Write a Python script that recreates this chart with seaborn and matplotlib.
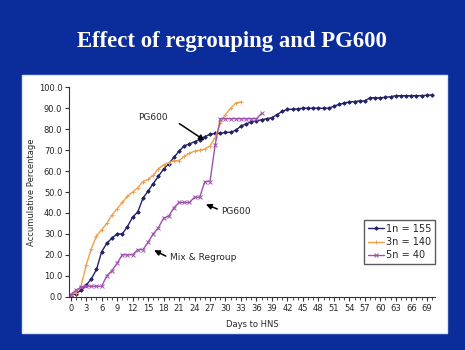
import numpy as np
import pandas as pd
import matplotlib
matplotlib.use("Agg")
import matplotlib.pyplot as plt
from matplotlib.patches import Rectangle
import seaborn as sns

# ---- data ----
days_1 = list(range(0, 71))
vals_1 = [0.5, 1.5, 3, 5.5, 8.5, 13, 21.5, 25.5, 28, 30, 30, 33.5, 38, 40.5, 47, 50.5,
          54, 57.5, 61, 63.5, 66.5, 69.5, 72, 73, 74, 75, 76.5, 77.5, 78, 78, 78.5, 78.5,
          79.5, 81.5, 82.5, 83.5, 84, 84.5, 85, 85.5, 87, 88.5, 89.5, 89.5, 89.7, 90, 90,
          90, 90, 90, 90, 91, 91.8, 92.5, 93, 93.2, 93.5, 93.5, 95, 95, 95, 95.2, 95.5,
          96, 96, 96, 96, 96, 96, 96.2, 96.3]
days_3 = list(range(0, 34))
vals_3 = [0.7, 2, 5, 15, 23, 29, 32, 35, 39, 42, 45, 48, 50, 52, 55, 56, 58, 61, 63, 64,
          65, 65, 67, 68.5, 69.5, 70, 70.5, 72, 76, 83, 87, 90, 92.5, 93]
days_5 = list(range(0, 38))
vals_5 = [1, 3, 4.5, 5, 5, 5, 5, 10, 12.5, 16, 20, 20, 20, 22.5, 22.5, 26, 30, 33, 37.5,
          38.5, 42.5, 45, 45, 45, 47.5, 47.5, 55, 55, 72.5, 85, 85, 85, 85, 85, 85, 85,
          85, 87.5]
series_names = ["1n = 155", "3n = 140", "5n = 40"]
x_ticks = list(range(0, 70, 3))
y_ticks = list(range(0, 101, 10))

df = pd.concat([
    pd.DataFrame({"day": days_1, "pct": vals_1, "series": series_names[0]}),
    pd.DataFrame({"day": days_3, "pct": vals_3, "series": series_names[1]}),
    pd.DataFrame({"day": days_5, "pct": vals_5, "series": series_names[2]}),
])

colors = {"1n = 155": "#232266", "3n = 140": "#f0a04a", "5n = 40": "#a050b0"}
markers = {"1n = 155": "D", "3n = 140": "+", "5n = 40": "x"}
msizes = {"1n = 155": 1.8, "3n = 140": 3.0, "5n = 40": 2.6}

sns.set_style("white")
plt.rcParams["font.family"] = ["DejaVu Sans"]

fig = plt.figure(figsize=(4.65, 3.5), dpi=100)
fig.patch.set_facecolor("#0b2d9c")
panel = Rectangle((22 / 465, 1 - 333 / 350), (447 - 22) / 465, (333 - 75) / 350,
                  transform=fig.transFigure, facecolor="white",
                  edgecolor="#dde6f5", lw=1, zorder=-5)
fig.patches.append(panel)

ax = fig.add_axes([69.3 / 465, 1 - 296.7 / 350, (435 - 69.3) / 465, (296.7 - 87.3) / 350])
ax.set_zorder(2)
ax.patch.set_alpha(0)

for name in series_names:
    sub = df[df["series"] == name]
    sns.lineplot(data=sub, x="day", y="pct", ax=ax, color=colors[name], lw=1.0,
                 marker=markers[name], markersize=msizes[name], markeredgewidth=0.7,
                 markeredgecolor=colors[name], label=name)

ax.set_xlim(-0.27, 70.6)
ax.set_ylim(0, 100)
ax.set_xticks(x_ticks)
ax.set_xticks(range(0, 71), minor=True)
ax.set_yticks(y_ticks)
ax.set_yticklabels([f"{v:.1f}" for v in y_ticks], fontsize=6)
ax.set_xticklabels([str(v) for v in x_ticks], fontsize=6)
ax.tick_params(axis="both", which="major", direction="out", length=3, width=0.8,
               color="#333333", pad=2, bottom=True, left=True)
ax.tick_params(axis="x", which="minor", direction="out", length=2, width=0.6,
               color="#333333", bottom=True)
for s in ["top", "right"]:
    ax.spines[s].set_visible(False)
for s in ["left", "bottom"]:
    ax.spines[s].set_color("#333333")
    ax.spines[s].set_linewidth(0.8)

ax.set_xlabel("Days to HNS", fontsize=6, labelpad=5)
ax.set_ylabel("Accumulative Percentage", fontsize=6, labelpad=2)

leg = ax.legend(loc="lower right", bbox_to_anchor=(1.0, 0.155), fontsize=7,
                frameon=True, fancybox=False, handlelength=1.6, handletextpad=0.2,
                borderpad=0.4, labelspacing=0.35, borderaxespad=0)
leg.get_frame().set_edgecolor("#333333")
leg.get_frame().set_linewidth(1.0)

arrow = dict(arrowstyle="-|>", color="black", lw=1.1, mutation_scale=8)
ax.annotate("", xy=(26.4, 73.9), xytext=(20.6, 83.4), arrowprops=arrow)
ax.text(15.95, 85.8, "PG600", fontsize=6.5, ha="center", va="center")
ax.annotate("", xy=(25.7, 44.6), xytext=(28.9, 41.4), arrowprops=arrow)
ax.text(29.2, 40.6, "PG600", fontsize=6.5, ha="left", va="center")
ax.annotate("", xy=(15.7, 22.8), xytext=(18.9, 18.8), arrowprops=arrow)
ax.text(19.2, 18.5, "Mix & Regroup", fontsize=6.5, ha="left", va="center")

fig.text(232 / 465, 1 - 42 / 350, "Effect of regrouping and PG600", color="white",
         fontsize=16.4, family="Liberation Serif", fontweight="bold", ha="center", va="center")

fig.savefig("out.png", dpi=100, facecolor=fig.get_facecolor())
